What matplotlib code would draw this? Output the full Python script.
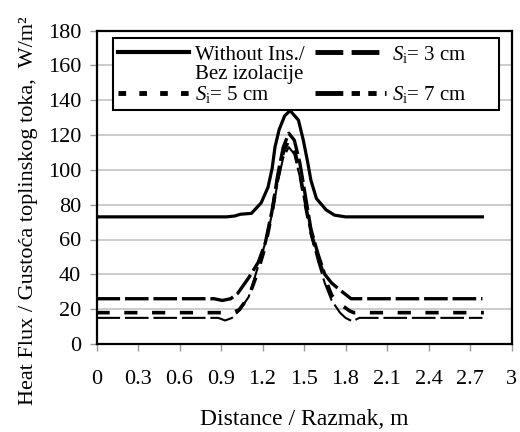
import matplotlib
matplotlib.use("Agg")
import matplotlib.pyplot as plt
from matplotlib.lines import Line2D

# ---- data ----
x_none = [0, 0.94, 1.0, 1.04, 1.12, 1.19, 1.24, 1.27, 1.29, 1.32, 1.36, 1.40, 1.46, 1.495, 1.525, 1.55, 1.59, 1.66, 1.72, 1.80, 2.79]
y_none = [73, 73, 73.5, 74.5, 75, 81, 90, 101, 113, 123, 131, 134, 128.5, 117, 105, 94, 83.5, 77, 74, 73, 73]

x_s3 = [0, 0.85, 0.91, 0.97, 1.02, 1.10, 1.17, 1.22, 1.27, 1.31, 1.35, 1.39, 1.43, 1.47, 1.51, 1.55, 1.60, 1.65, 1.70, 1.76, 1.84, 2.79]
y_s3 = [26, 26, 25, 26, 29, 38, 47, 58, 77, 97, 113, 121, 117, 104, 85, 66, 52, 40, 35, 31, 26, 26]

x_s5 = [0, 0.93, 0.98, 1.03, 1.10, 1.16, 1.22, 1.27, 1.31, 1.35, 1.39, 1.43, 1.47, 1.51, 1.55, 1.60, 1.65, 1.70, 1.76, 1.83, 1.86, 2.80]
y_s5 = [18, 18, 18, 19.5, 27, 40, 56, 76, 95, 110, 117, 112, 98, 80, 64, 50, 38, 28, 23, 19, 18, 18]

x_s7 = [0, 0.88, 0.93, 0.98, 1.03, 1.10, 1.17, 1.22, 1.27, 1.31, 1.35, 1.39, 1.43, 1.47, 1.51, 1.55, 1.60, 1.65, 1.70, 1.76, 1.80, 1.85, 1.90, 2.79]
y_s7 = [15, 15, 13.5, 15, 19, 27, 45, 58, 75, 93, 107, 113, 109, 96, 79, 63, 48, 35, 25, 18, 15, 13, 15, 15]

labels = ["Without Ins./", "Bez izolacije", r"$S_\mathrm{i}$= 3 cm", r"$S_\mathrm{i}$= 5 cm", r"$S_\mathrm{i}$= 7 cm"]
x_ticks = [0, 0.3, 0.6, 0.9, 1.2, 1.5, 1.8, 2.1, 2.4, 2.7, 3]
x_ticklabels = ["0", "0.3", "0.6", "0.9", "1.2", "1.5", "1.8", "2.1", "2.4", "2.7", "3"]
y_ticks = [0, 20, 40, 60, 80, 100, 120, 140, 160, 180]

plt.rcParams['font.family'] = ['Liberation Serif', 'DejaVu Serif']
plt.rcParams['mathtext.fontset'] = 'custom'
plt.rcParams['mathtext.rm'] = 'Liberation Serif'
plt.rcParams['mathtext.it'] = 'Liberation Serif:italic'
plt.rcParams['lines.scale_dashes'] = False

fig = plt.figure(figsize=(5.2, 4.32), dpi=100)
ax = fig.add_axes([96.5/520, 1-344/432, 415/520, 313.5/432])

l0, = ax.plot(x_none, y_none, color='black', lw=2.3, solid_joinstyle='round')
l3, = ax.plot(x_s3, y_s3, color='black', lw=2.4, dashes=(17, 3.5))
l5, = ax.plot(x_s5, y_s5, color='black', lw=2.6, dashes=(9.5, 10.5))
l7, = ax.plot(x_s7, y_s7, color='black', lw=1.5, dashes=(17, 3.5))

ax.set_xlim(0, 3)
ax.set_ylim(0, 180)
ax.set_xticks(x_ticks)
ax.set_xticklabels(x_ticklabels)
ax.set_yticks(y_ticks)
ax.tick_params(axis='both', direction='out', length=5, width=1, color='#999999', labelsize=16, pad=6)
ax.tick_params(axis='x', pad=14)
ax.grid(axis='y', color='#c4c4c4', lw=1.2)
ax.set_axisbelow(True)
for s in ax.spines.values():
    s.set_linewidth(1.6)
    s.set_color('black')

ax.set_xlabel("Distance / Razmak, m", fontsize=17, labelpad=14)
ax.set_ylabel("Heat Flux / Gustoća toplinskog toka,  W/m²", fontsize=16)
ax.yaxis.set_label_coords(-0.14, 0.425)

pad = "      "
h0 = Line2D([], [], color='black', lw=3)
h3 = Line2D([], [], color='black', lw=3.5, dashes=(20, 6))
h5 = Line2D([], [], color='black', lw=3.5, dashes=(5.5, 9.5))
h7 = Line2D([], [], color='black', lw=3.5, dashes=(20, 6, 6, 6, 6, 6))
hb = Line2D([], [], color='none', lw=0)
leg = ax.legend([h0, hb, h5, h3, hb, h7],
                [labels[0], labels[1], labels[3], labels[2] + pad, " ", labels[4] + pad],
                ncol=2, loc='upper left', bbox_to_anchor=(0.039, 0.975),
                fontsize=15, frameon=True, fancybox=False, framealpha=1,
                edgecolor='black', handlelength=3.4, handletextpad=0.3,
                columnspacing=0.5, labelspacing=0.0, borderpad=0.25, borderaxespad=0)
leg.get_frame().set_linewidth(1.5)

fig.savefig("out.png", dpi=100)
